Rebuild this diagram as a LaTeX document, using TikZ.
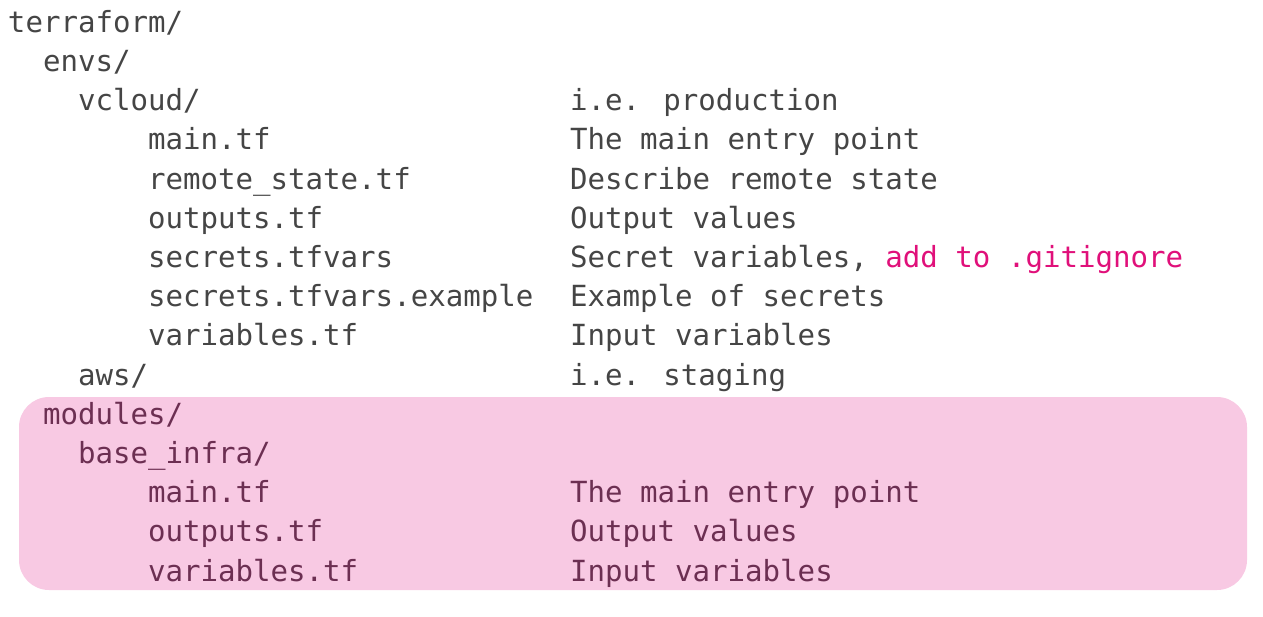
\documentclass[tikz,border=0pt]{standalone}
\usepackage{fontspec}
\newfontfamily\treefont{DejaVu Sans Mono}
\definecolor{ink}{HTML}{454545}
\definecolor{hot}{HTML}{E0107A}
\definecolor{modfill}{HTML}{F8C9E3}
\definecolor{modink}{HTML}{6C2F52}
\begin{document}
\begin{tikzpicture}[x=1pt,y=-1pt,
  line/.style={anchor=base west,inner sep=0pt,outer sep=0pt,text=ink,
    font=\treefont\fontsize{29.1}{39}\selectfont},
  modline/.style={line,text=modink},
  note/.style={line},
  modnote/.style={modline}]
\useasboundingbox (0,0) rectangle (1263,616);
% highlighted modules block
\fill[modfill,rounded corners=30pt] (19,397) rectangle (1247,590);
% file tree, one row every 39.2 units; columns are 17.5 units per character
\def\rowy#1{32.3+39.2*#1}
\node[line] (r0) at (8,{\rowy{0}}) {terraform/};
\node[line] (r1) at (43,{\rowy{1}}) {envs/};
\node[line] (r2) at (78,{\rowy{2}}) {vcloud/};
\node[line] (r3) at (148,{\rowy{3}}) {main.tf};
\node[line] (r4) at (148,{\rowy{4}}) {remote\_state.tf};
\node[line] (r5) at (148,{\rowy{5}}) {outputs.tf};
\node[line] (r6) at (148,{\rowy{6}}) {secrets.tfvars};
\node[line] (r7) at (148,{\rowy{7}}) {secrets.tfvars.example};
\node[line] (r8) at (148,{\rowy{8}}) {variables.tf};
\node[line] (r9) at (78,{\rowy{9}}) {aws/};
\node[modline] (r10) at (43,{\rowy{10}}) {modules/};
\node[modline] (r11) at (78,{\rowy{11}}) {base\_infra/};
\node[modline] (r12) at (148,{\rowy{12}}) {main.tf};
\node[modline] (r13) at (148,{\rowy{13}}) {outputs.tf};
\node[modline] (r14) at (148,{\rowy{14}}) {variables.tf};
% descriptions
\def\colx{570}
\node[note] (n2) at (\colx,{\rowy{2}}) {i.e. production};
\node[note] (n3) at (\colx,{\rowy{3}}) {The main entry point};
\node[note] (n4) at (\colx,{\rowy{4}}) {Describe remote state};
\node[note] (n5) at (\colx,{\rowy{5}}) {Output values};
\node[note] (n6) at (\colx,{\rowy{6}}) {Secret variables, \textcolor{hot}{add to .gitignore}};
\node[note] (n7) at (\colx,{\rowy{7}}) {Example of secrets};
\node[note] (n8) at (\colx,{\rowy{8}}) {Input variables};
\node[note] (n9) at (\colx,{\rowy{9}}) {i.e. staging};
\node[modnote] (n12) at (\colx,{\rowy{12}}) {The main entry point};
\node[modnote] (n13) at (\colx,{\rowy{13}}) {Output values};
\node[modnote] (n14) at (\colx,{\rowy{14}}) {Input variables};
\end{tikzpicture}
\end{document}
